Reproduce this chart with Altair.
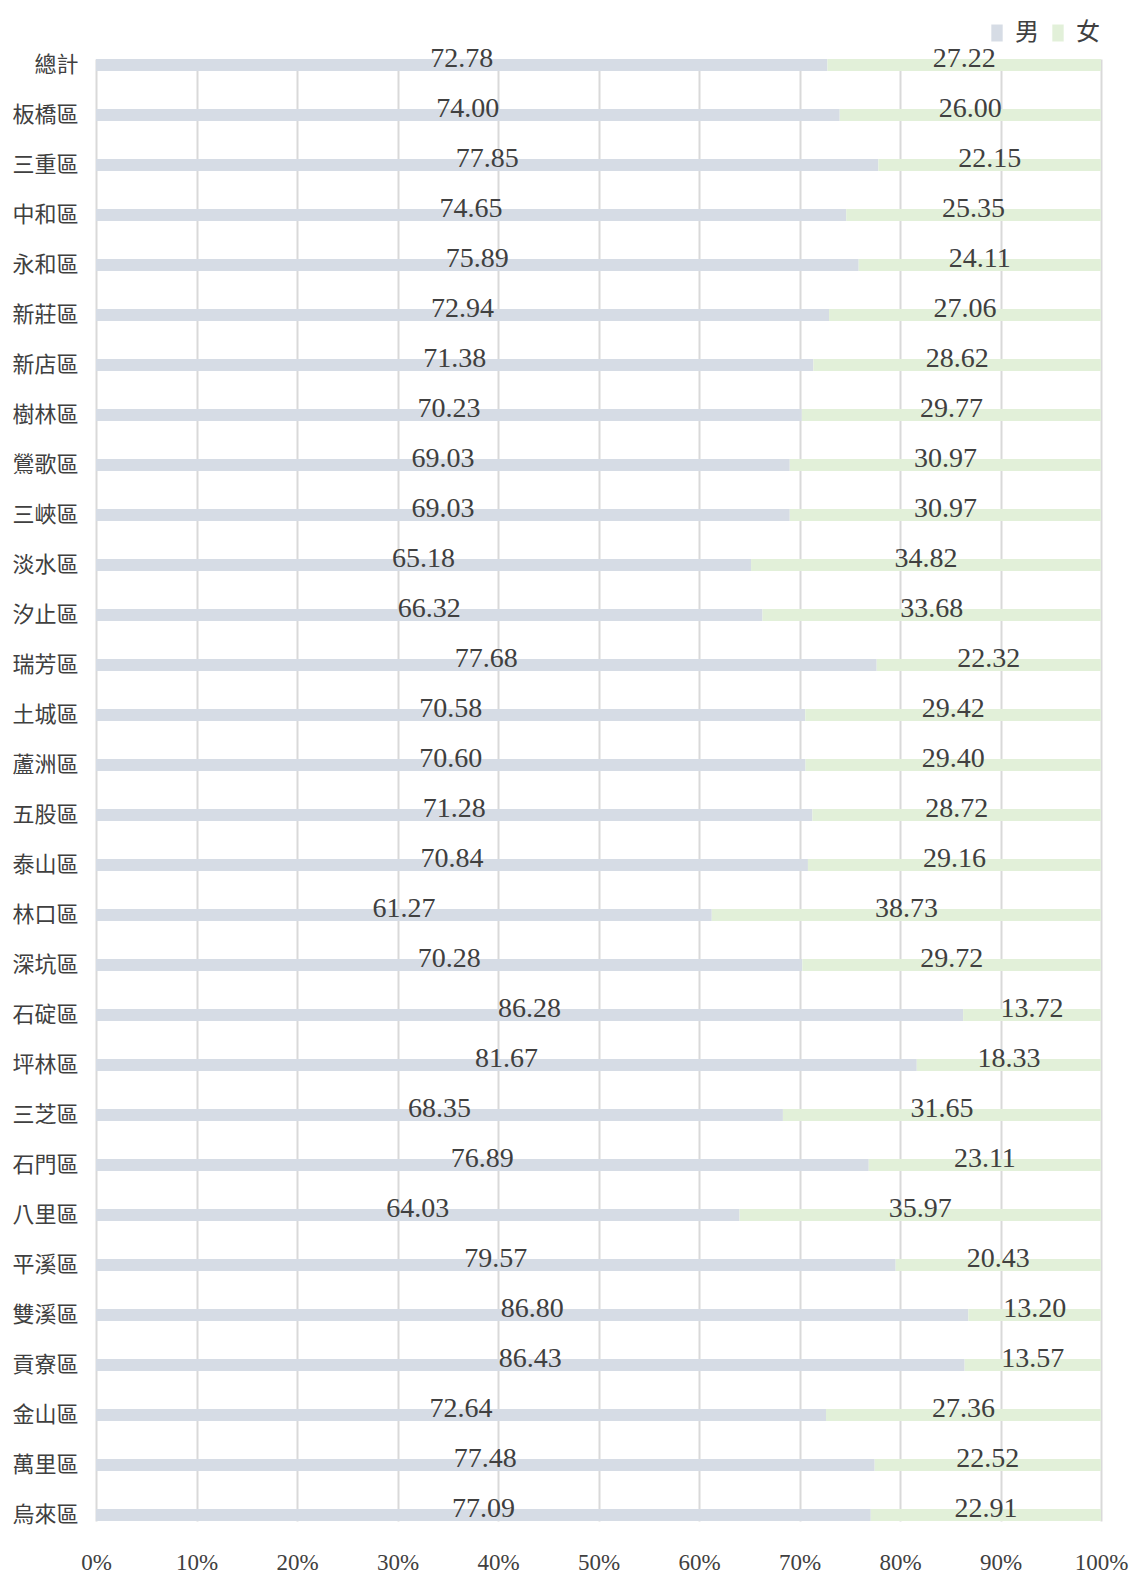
import altair as alt
import pandas as pd

districts = ["總計", "板橋區", "三重區", "中和區", "永和區", "新莊區", "新店區", "樹林區",
             "鶯歌區", "三峽區", "淡水區", "汐止區", "瑞芳區", "土城區", "蘆洲區", "五股區",
             "泰山區", "林口區", "深坑區", "石碇區", "坪林區", "三芝區", "石門區", "八里區",
             "平溪區", "雙溪區", "貢寮區", "金山區", "萬里區", "烏來區"]
male = [72.78, 74.00, 77.85, 74.65, 75.89, 72.94, 71.38, 70.23,
        69.03, 69.03, 65.18, 66.32, 77.68, 70.58, 70.60, 71.28,
        70.84, 61.27, 70.28, 86.28, 81.67, 68.35, 76.89, 64.03,
        79.57, 86.80, 86.43, 72.64, 77.48, 77.09]
female = [27.22, 26.00, 22.15, 25.35, 24.11, 27.06, 28.62, 29.77,
          30.97, 30.97, 34.82, 33.68, 22.32, 29.42, 29.40, 28.72,
          29.16, 38.73, 29.72, 13.72, 18.33, 31.65, 23.11, 35.97,
          20.43, 13.20, 13.57, 27.36, 22.52, 22.91]
sexes = ["男", "女"]
colors = ["#d6dce5", "#e2f0d9"]
ticks = [0, 10, 20, 30, 40, 50, 60, 70, 80, 90, 100]

rows = []
for d, m, f in zip(districts, male, female):
    rows.append({"district": d, "sex": sexes[0], "order": 0, "value": m})
    rows.append({"district": d, "sex": sexes[1], "order": 1, "value": f})
df = pd.DataFrame(rows)

txt_color = "#404040"
cjk = "Noto Sans CJK TC"
serif = "Liberation Serif"

base = alt.Chart(df).transform_stack(
    stack="value", groupby=["district"], as_=["x0", "x1"],
    sort=[alt.SortField("order", order="ascending")]
).transform_calculate(mid="(datum.x0 + datum.x1) / 2")

y_enc = alt.Y(
    "district:N", sort=districts, title=None,
    scale=alt.Scale(paddingInner=0.76, paddingOuter=0),
    axis=alt.Axis(domain=False, ticks=False, labelFont=cjk, labelFontSize=22,
                  labelPadding=18, labelColor=txt_color, grid=False),
)

x_enc = alt.X(
    "x0:Q", title=None,
    scale=alt.Scale(domain=[0, 100], nice=False),
    axis=alt.Axis(values=ticks, labelExpr="datum.value + '%'", domain=False,
                  ticks=False, grid=True, gridColor="#d9d9d9", gridWidth=2,
                  labelFont=serif, labelFontSize=23, labelColor=txt_color,
                  labelPadding=30, labelFlush=False),
)

bars = base.mark_bar(cornerRadius=0).encode(
    y=y_enc,
    x=x_enc,
    x2="x1:Q",
    color=alt.Color(
        "sex:N",
        scale=alt.Scale(domain=sexes, range=colors),
        legend=alt.Legend(
            title=None, orient="none", direction="horizontal",
            legendX=889, legendY=-38,
            symbolType="M-0.667,-1L0.667,-1L0.667,1L-0.667,1Z", symbolSize=289,
            symbolStrokeWidth=0, labelFont=cjk, labelFontSize=24,
            labelColor=txt_color, labelOffset=6, columnPadding=7,
            labelLimit=200,
        ),
    ),
    order=alt.Order("order:Q"),
)

labels = base.mark_text(
    font=serif, fontSize=28, color=txt_color, baseline="middle", align="center", dy=-6
).encode(
    y=alt.Y("district:N", sort=districts),
    x=alt.X("mid:Q"),
    text=alt.Text("value:Q", format=".2f"),
)

chart = alt.layer(bars, labels).properties(
    width=1005,
    height=1462,
    autosize=alt.AutoSizeParams(type="none"),
    padding={"left": 88, "top": 51, "right": 28, "bottom": 55},
).configure_view(stroke=None)

chart.save("out.html", embed_options={"renderer": "svg", "actions": False})
